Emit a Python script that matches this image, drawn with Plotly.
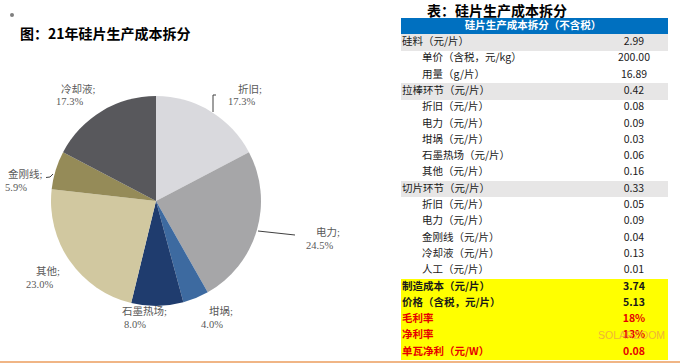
import plotly.graph_objects as go

W, H = 680, 363

# ---------------- data ----------------
pie_labels = ["折旧", "电力", "坩埚", "石墨热场", "其他", "金刚线", "冷却液"]
pie_values = [17.3, 24.5, 4.0, 8.0, 23.0, 5.9, 17.3]
pie_colors = ["#d9d9dd", "#a6a6a8", "#3d6aa0", "#1f3c6e", "#d1c8a0", "#958b58", "#58585c"]

table_title = "硅片生产成本拆分（不含税）"
row_items = ["硅料（元/片）", "单价（含税，元/kg）", "用量（g/片）",
             "拉棒环节（元/片）", "折旧（元/片）", "电力（元/片）", "坩埚（元/片）",
             "石墨热场（元/片）", "其他（元/片）",
             "切片环节（元/片）", "折旧（元/片）", "电力（元/片）", "金刚线（元/片）",
             "冷却液（元/片）", "人工（元/片）",
             "制造成本（元/片）", "价格（含税，元/片）", "毛利率", "净利率", "单瓦净利（元/W）"]
row_values = [2.99, 200.00, 16.89, 0.42, 0.08, 0.09, 0.03, 0.06, 0.16,
              0.33, 0.05, 0.09, 0.04, 0.13, 0.01, 3.74, 5.13, 18, 13, 0.08]
row_units = ["", "", "", "", "", "", "", "", "", "", "", "", "", "", "",
             "", "", "%", "%", ""]
row_kind = ["group", "sub", "sub", "group", "sub", "sub", "sub", "sub", "sub",
            "group", "sub", "sub", "sub", "sub", "sub",
            "key", "key", "red", "red", "red"]

# ---------------- helpers ----------------
def px(x):
    return x / W

def py(y):
    return 1 - y / H

fig = go.Figure()

# ---------------- pie ----------------
fig.add_trace(go.Pie(
    values=pie_values, labels=pie_labels, sort=False, direction="clockwise",
    rotation=0, marker=dict(colors=pie_colors, line=dict(width=0)),
    textinfo="none", showlegend=False,
    domain=dict(x=[px(51), px(261)], y=[py(306), py(96)]),
))

# ---------------- table (drawn as full-width bars + text on its own axes) ----------------
T_LEFT, T_RIGHT = 401, 668
T_TOP, ROW_H = 18, 16.3
n_rows = len(row_items)
T_BOTTOM = T_TOP + ROW_H * (n_rows + 1)
T_W = T_RIGHT - T_LEFT

fill_map = {"group": "#e7e6e6", "sub": "#ffffff", "key": "#ffff00", "red": "#ffff00"}
color_map = {"group": "#1a1a1a", "sub": "#1a1a1a", "key": "#1a1a1a", "red": "#e60000"}

rows_y = list(range(n_rows))
fills = [fill_map[k] for k in row_kind]
fig.add_trace(go.Bar(
    x=[1] * (n_rows + 1), y=[-1] + rows_y, base=0, orientation="h", width=1,
    marker=dict(color=["#0070c0"] + fills, line=dict(width=0)),
    xaxis="x2", yaxis="y2", showlegend=False, hoverinfo="skip",
))

item_txt, val_txt, item_x, tcolors = [], [], [], []
for it, v, u, k in zip(row_items, row_values, row_units, row_kind):
    vt = f"{v:.0f}%" if u == "%" else f"{v:.2f}"
    if k in ("key", "red"):
        it, vt = "<b>" + it + "</b>", "<b>" + vt + "</b>"
    item_txt.append(it)
    val_txt.append(vt)
    item_x.append((21 if k == "sub" else 1) / T_W)
    tcolors.append(color_map[k])

tfont = "Noto Sans CJK SC"
fig.add_trace(go.Scatter(
    x=item_x, y=rows_y, text=item_txt, mode="text", textposition="middle right",
    textfont=dict(family=tfont, size=10.5, color=tcolors),
    xaxis="x2", yaxis="y2", showlegend=False, hoverinfo="skip",
))
fig.add_trace(go.Scatter(
    x=[(634 - T_LEFT) / T_W] * n_rows, y=rows_y, text=val_txt, mode="text",
    textposition="middle center",
    textfont=dict(family=tfont, size=10.5, color=tcolors),
    xaxis="x2", yaxis="y2", showlegend=False, hoverinfo="skip",
))
fig.add_trace(go.Scatter(
    x=[(533 - T_LEFT) / T_W], y=[-1], text=["<b>" + table_title + "</b>"], mode="text",
    textposition="middle center", textfont=dict(family=tfont, size=10.5, color="#ffffff"),
    xaxis="x2", yaxis="y2", showlegend=False, hoverinfo="skip",
))

ann = []
# pie labels
lab_pos = [(241, 89), (319, 232), (212, 311), (135, 311), (39, 271), (16, 174), (69, 89)]
lab_font = dict(family="Liberation Serif, Noto Sans CJK SC", size=10.5, color="#595959")
for name, val, (x, y) in zip(pie_labels, pie_values, lab_pos):
    ann.append(dict(text=name + ";", x=px(x + 9), y=py(y), xref="paper", yref="paper",
                    showarrow=False, xanchor="center", yanchor="middle", font=lab_font))
    ann.append(dict(text=f"{val:.1f}%", x=px(x), y=py(y + 13), xref="paper", yref="paper",
                    showarrow=False, xanchor="center", yanchor="middle", font=lab_font))

# titles
ann.append(dict(text="<b>图：21年硅片生产成本拆分</b>", x=px(18), y=py(33), xref="paper",
                yref="paper", showarrow=False, xanchor="left", yanchor="middle",
                font=dict(family=tfont, size=14, color="#000000")))
ann.append(dict(text="<b>表：硅片生产成本拆分</b>", x=px(497), y=py(10), xref="paper",
                yref="paper", showarrow=False, xanchor="center", yanchor="middle",
                font=dict(family=tfont, size=14, color="#000000")))
# watermark
ann.append(dict(text="SOLARZOOM", x=px(631), y=py(335), xref="paper", yref="paper",
                showarrow=False, xanchor="center", yanchor="middle",
                font=dict(family="Liberation Sans", size=10.5, color="rgba(235,160,70,0.8)")))

shapes = [
    # leader lines
    dict(type="line", xref="paper", yref="paper", x0=px(213), y0=py(112), x1=px(213), y1=py(95),
         line=dict(color="#404040", width=1)),
    dict(type="line", xref="paper", yref="paper", x0=px(213), y0=py(95), x1=px(216), y1=py(95),
         line=dict(color="#404040", width=1)),
    dict(type="line", xref="paper", yref="paper", x0=px(258), y0=py(231), x1=px(295), y1=py(235),
         line=dict(color="#404040", width=1)),
    dict(type="line", xref="paper", yref="paper", x0=px(46), y0=py(177.5), x1=px(50), y1=py(177),
         line=dict(color="#404040", width=1)),
    dict(type="line", xref="paper", yref="paper", x0=px(50), y0=py(177), x1=px(53), y1=py(174),
         line=dict(color="#404040", width=1)),
    # bullet
    dict(type="circle", xref="paper", yref="paper", x0=px(10), y0=py(13), x1=px(14), y1=py(17),
         fillcolor="#7f7f7f", line=dict(width=0)),
    # bottom orange rule
    dict(type="line", xref="paper", yref="paper", x0=0, y0=py(362), x1=1, y1=py(362),
         line=dict(color="#f0b585", width=2)),
]

fig.update_layout(
    width=W, height=H, margin=dict(l=0, r=0, t=0, b=0),
    paper_bgcolor="#ffffff", plot_bgcolor="rgba(0,0,0,0)",
    bargap=0,
    xaxis2=dict(domain=[px(T_LEFT), px(T_RIGHT)], range=[0, 1], visible=False,
                fixedrange=True, anchor="y2"),
    yaxis2=dict(domain=[py(T_BOTTOM), py(T_TOP)], range=[n_rows - 0.5, -1.5],
                visible=False, fixedrange=True, anchor="x2"),
    annotations=ann, shapes=shapes,
)

fig.write_html("out.html", config={"displayModeBar": False},
               post_script="document.body.style.margin='0';document.body.style.padding='0';")
